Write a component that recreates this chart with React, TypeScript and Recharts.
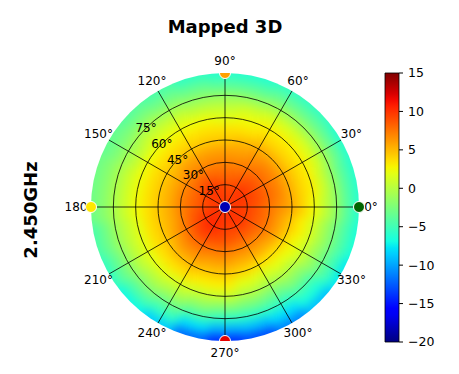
import {
  PieChart,
  Pie,
  Cell,
  RadarChart,
  PolarGrid,
  PolarAngleAxis,
  PolarRadiusAxis,
  Radar,
  BarChart,
  Bar,
  XAxis,
  YAxis,
} from 'recharts';

// azimuth of each sampled direction (deg), and elevation rings from boresight (deg)
const phiAngles = [0, 15, 30, 45, 60, 75, 90, 105, 120, 135, 150, 165, 180, 195, 210, 225, 240, 255, 270, 285, 300, 315, 330, 345];
const thetaSteps = [0, 7.5, 15, 22.5, 30, 37.5, 45, 52.5, 60, 67.5, 75, 82.5, 90];

// gain (dB), one row per phi, one column per theta step
const gainByPhi: number[][] = [
  [10, 9.5, 9.5, 8.5, 7.5, 6.5, 5.5, 4, 2.5, 0.5, -1.5, -4, -6],
  [10, 10, 9.5, 9, 8, 7, 5.5, 4, 3, 1, -1.5, -4, -6],
  [10, 10, 10, 9, 8, 7, 5.5, 4, 3, 1.5, -1, -3.5, -6],
  [10, 10, 10, 9, 8, 7, 5.5, 4, 3, 1.5, -1, -3.5, -5.5],
  [10, 9.5, 9.5, 8.5, 7.5, 6.5, 5.5, 4, 3, 1.5, -1, -3.5, -5.5],
  [10, 9.5, 9, 8, 7, 6, 5, 3.5, 2.5, 1, -1.5, -4, -6],
  [10, 9, 9, 8, 7, 6, 4.5, 3.5, 2, 0.5, -1.5, -4, -6],
  [10, 9.5, 9.5, 8, 7, 6, 4.5, 3.5, 2.5, 0.5, -1.5, -3.5, -5.5],
  [10, 10, 10, 8.5, 7, 6, 4.5, 3.5, 2.5, 1, -1, -3, -4.5],
  [10, 10, 10, 8.5, 7, 6, 4.5, 3.5, 2.5, 1, -0.5, -2.5, -4],
  [10, 10, 9.5, 8, 7, 5.5, 4.5, 3.5, 2.5, 0.5, -1, -2.5, -3.5],
  [10, 9.5, 9, 8, 7, 5.5, 4.5, 3.5, 2.5, 1, -0.5, -2, -3],
  [10, 9.5, 9, 8, 7, 5.5, 4.5, 3.5, 2.5, 1, -0.5, -2, -3],
  [10, 10, 9.5, 8.5, 7, 5.5, 4.5, 3.5, 2, 0.5, -1, -3, -4.5],
  [10, 10, 10, 9, 7.5, 6, 4.5, 3.5, 2, 0.5, -1.5, -3.5, -5.5],
  [10, 10.5, 10.5, 9.5, 8, 6.5, 5, 3.5, 2, 0, -2, -4.5, -7],
  [10, 10, 10.5, 9.5, 8, 6.5, 5, 3.5, 1.5, -0.5, -3, -5.5, -8.5],
  [10, 10, 10, 9, 7.5, 6, 4.5, 3, 1, -1.5, -4.5, -8, -12],
  [10, 9.5, 9.5, 9, 7.5, 6, 4.5, 3, 1, -2, -5.5, -9.5, -14],
  [10, 10, 9.5, 8.5, 7, 5.5, 4, 2, 0, -2.5, -5.5, -9, -13],
  [10, 10, 9.5, 8.5, 7, 5.5, 3.5, 1.5, -0.5, -3, -5.5, -8, -11],
  [10, 10.5, 10, 8.5, 7, 5.5, 3.5, 2, 0, -2, -4.5, -6.5, -9],
  [10, 10, 9.5, 8.5, 7.5, 6, 4, 2.5, 1, -1, -3, -5, -7.5],
  [10, 9.5, 9.5, 8.5, 7.5, 6, 4.5, 3, 1.5, -0.5, -2.5, -4.5, -6.5],
];

// angle categories, listed clockwise from 0° (radar axis runs clockwise)
const angleLabels = ['0°', '330°', '300°', '270°', '240°', '210°', '180°', '150°', '120°', '90°', '60°', '30°'];
const radiusTicks = [15, 30, 45, 60, 75];
const colorbarTicks = [-20, -15, -10, -5, 0, 5, 10, 15];
const markerAngles = ['0°', '90°', '180°', '270°'];
const markerColors = ['#006400', '#ffa000', '#ffe800', '#e80000'];
const centerColor = '#0000b4';

const GAIN_MIN = -20;
const GAIN_MAX = 15;
const THETA_MAX = 90;
const CX = 225;
const CY = 207;
const R = 134;
const FONT = '"DejaVu Sans", sans-serif';

// matplotlib jet
const jetRed = [[0, 0], [0.35, 0], [0.66, 1], [0.89, 1], [1, 0.5]];
const jetGreen = [[0, 0], [0.125, 0], [0.375, 1], [0.64, 1], [0.91, 0], [1, 0]];
const jetBlue = [[0, 0.5], [0.11, 1], [0.34, 1], [0.65, 0], [1, 0]];

const lookup = (tab: number[][], t: number) => {
  for (let i = 1; i < tab.length; i++) {
    if (t <= tab[i][0]) {
      const [x0, y0] = tab[i - 1];
      const [x1, y1] = tab[i];
      return y0 + ((t - x0) / (x1 - x0)) * (y1 - y0);
    }
  }
  return tab[tab.length - 1][1];
};

const jet = (t: number) => {
  const c = Math.max(0, Math.min(1, t));
  const r = Math.round(lookup(jetRed, c) * 255);
  const g = Math.round(lookup(jetGreen, c) * 255);
  const b = Math.round(lookup(jetBlue, c) * 255);
  return `rgb(${r},${g},${b})`;
};

const gainColor = (v: number) => jet((v - GAIN_MIN) / (GAIN_MAX - GAIN_MIN));

const gradientStops = Array.from({ length: 41 }, (_, i) => i / 40);

const sectorData = phiAngles.map((phi) => ({ phi, share: 1 }));
const halfStep = 360 / phiAngles.length / 2;
const ringHalf = ((thetaSteps[1] - thetaSteps[0]) / THETA_MAX) * R / 2;

const angleRows = angleLabels.map((label) => ({ label, edge: THETA_MAX, center: 0 }));
const colorbarData = [{ name: 'gain', range: [GAIN_MIN, GAIN_MAX] }];

const renderAngleTick = (props: any) => {
  const { x, y, payload } = props;
  return (
    <text x={x} y={y} textAnchor="middle" dominantBaseline="central" fontSize={12} fontFamily={FONT} fill="#000">
      {payload.value}
    </text>
  );
};

const renderRadiusTick = (props: any) => {
  const { x, y, payload } = props;
  return (
    <text x={x} y={y} textAnchor="middle" dominantBaseline="central" fontSize={12} fontFamily={FONT} fill="#000">
      {`${payload.value}°`}
    </text>
  );
};

const renderMarker = (props: any) => {
  const { cx, cy, index } = props;
  const m = markerAngles.indexOf(angleLabels[index]);
  if (m < 0) return <g key={`mk-${index}`} />;
  return (
    <circle
      key={`mk-${index}`}
      cx={cx}
      cy={cy}
      r={5.5}
      fill={markerColors[m]}
      stroke="#fff"
      strokeWidth={1}
      clipPath="url(#axesClip)"
    />
  );
};

const renderCenter = (props: any) => {
  const { cx, cy, index } = props;
  if (index !== 0) return <g key={`c-${index}`} />;
  return <circle key={`c-${index}`} cx={cx} cy={cy} r={5.5} fill={centerColor} stroke="#fff" strokeWidth={1} />;
};

const fill = { position: 'absolute' as const, left: 0, top: 0 };

export default function App() {
  return (
    <div style={{ ...fill, width: 459, height: 374, background: '#fff', fontFamily: FONT }}>
      <svg width={0} height={0} style={{ position: 'absolute' }}>
        <defs>
          <linearGradient id="jetBar" x1="0" y1="1" x2="0" y2="0">
            {gradientStops.map((t) => (
              <stop key={t} offset={t} stopColor={jet(t)} />
            ))}
          </linearGradient>
          <clipPath id="axesClip" clipPathUnits="userSpaceOnUse">
            <rect x={0} y={CY - R} width={459} height={2 * R} />
          </clipPath>
        </defs>
      </svg>

      <div style={{ ...fill, filter: 'blur(5px)', clipPath: `circle(${R}px at ${CX}px ${CY}px)` }}>
        <PieChart width={459} height={374} margin={{ top: 0, right: 0, bottom: 0, left: 0 }}>
          {thetaSteps.map((theta, k) => {
            const mid = (theta / THETA_MAX) * R;
            const inner = Math.max(0, mid - ringHalf);
            const outer = k === thetaSteps.length - 1 ? R + 20 : mid + ringHalf;
            return (
              <Pie
                key={`ring-${k}`}
                data={sectorData}
                dataKey="share"
                cx={CX}
                cy={CY}
                innerRadius={inner}
                outerRadius={outer}
                startAngle={phiAngles[0] - halfStep}
                endAngle={phiAngles[0] - halfStep + 360}
                paddingAngle={0}
                isAnimationActive={false}
              >
                {phiAngles.map((_, j) => (
                  <Cell key={`c-${k}-${j}`} fill={gainColor(gainByPhi[j][k])} stroke={gainColor(gainByPhi[j][k])} strokeWidth={1} />
                ))}
              </Pie>
            );
          })}
        </PieChart>
      </div>

      <div style={fill}>
        <RadarChart
          width={459}
          height={374}
          cx={CX}
          cy={CY}
          innerRadius={0}
          outerRadius={R}
          startAngle={0}
          endAngle={-360}
          data={angleRows}
          margin={{ top: 0, right: 0, bottom: 0, left: 0 }}
        >
          <PolarGrid gridType="circle" stroke="#000" strokeWidth={0.8} />
          <PolarAngleAxis dataKey="label" tickLine={false} axisLine={false} tickSize={12} tick={renderAngleTick} />
          <PolarRadiusAxis
            type="number"
            angle={135}
            domain={[0, THETA_MAX]}
            ticks={radiusTicks}
            axisLine={false}
            tickLine={false}
            tick={renderRadiusTick}
          />
          <Radar dataKey="edge" stroke="none" fill="none" dot={renderMarker} isAnimationActive={false} />
          <Radar dataKey="center" stroke="none" fill="none" dot={renderCenter} isAnimationActive={false} />
        </RadarChart>
      </div>

      <div style={fill}>
        <BarChart
          width={459}
          height={374}
          data={colorbarData}
          margin={{ top: CY - R, right: 0, bottom: 374 - (CY + R) - 1, left: 385 }}
          barCategoryGap={0}
        >
          <XAxis dataKey="name" hide />
          <YAxis
            orientation="right"
            width={60}
            type="number"
            domain={[GAIN_MIN, GAIN_MAX]}
            ticks={colorbarTicks}
            axisLine={false}
            tickSize={4}
            tickMargin={5}
            tickLine={{ stroke: '#000' }}
            tick={{ fill: '#000', fontSize: 12.5, fontFamily: FONT }}
            tickFormatter={(v: number) => (v < 0 ? `\u2212${Math.abs(v)}` : `${v}`)}
          />
          <Bar dataKey="range" fill="url(#jetBar)" stroke="#000" strokeWidth={0.8} isAnimationActive={false} />
        </BarChart>
      </div>

      <svg width={459} height={374} style={{ ...fill, pointerEvents: 'none' }}>
        <text x={225} y={33} textAnchor="middle" fontSize={18} fontWeight="bold" fontFamily={FONT} fill="#000">
          Mapped 3D
        </text>
        <text
          x={37}
          y={210}
          transform="rotate(-90 37 210)"
          textAnchor="middle"
          fontSize={18}
          fontWeight="bold"
          fontFamily={FONT}
          fill="#000"
        >
          2.450GHz
        </text>
      </svg>
    </div>
  );
}
